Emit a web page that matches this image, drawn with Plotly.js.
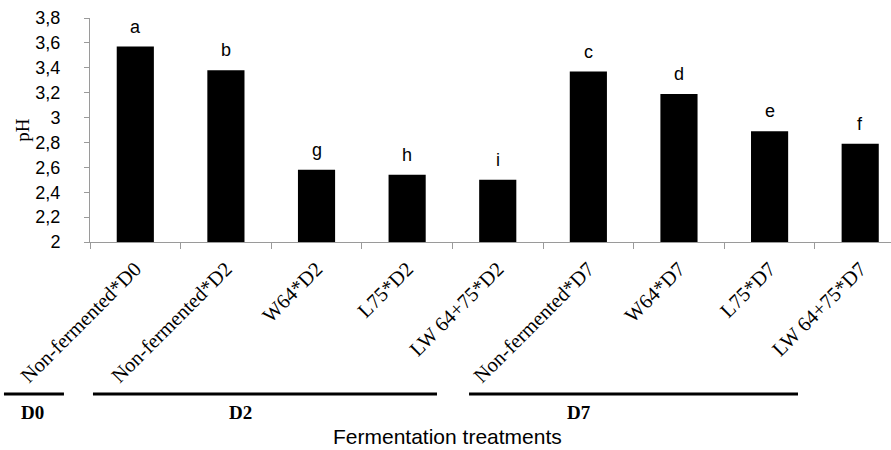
<!DOCTYPE html>
<html>
<head>
<meta charset="utf-8">
<script src="https://cdn.plot.ly/plotly-3.0.1.min.js"></script>
<style>html,body{margin:0;padding:0;background:#fff;}#chart{width:891px;height:450px;}</style>
</head>
<body>
<div id="chart"></div>
<script>
// Data
const categories = [
  "Non-fermented*D0",
  "Non-fermented*D2",
  "W64*D2",
  "L75*D2",
  "LW 64+75*D2",
  "Non-fermented*D7",
  "W64*D7",
  "L75*D7",
  "LW 64+75*D7"
];
const phValues = [3.57, 3.38, 2.58, 2.54, 2.50, 3.37, 3.19, 2.89, 2.79];
const letters = ["a", "b", "g", "h", "i", "c", "d", "e", "f"];
const yTickVals = [2, 2.2, 2.4, 2.6, 2.8, 3, 3.2, 3.4, 3.6, 3.8];
const groupNames = ["D0", "D2", "D7"];
// group bracket extents (paper coords) and label centers
const groupLineX0 = [-0.1074, 0.0037, 0.4732];
const groupLineX1 = [-0.0325, 0.4332, 0.8839];
const groupLabelX = [-0.0724, 0.1885, 0.6105];

const trace = {
  type: "bar",
  x: categories,
  y: phValues,
  width: 0.41,
  marker: {color: "#000000", line: {width: 0}},
  hoverinfo: "x+y"
};

const annotations = [];
categories.forEach((c, i) => {
  annotations.push({
    x: c, y: phValues[i], xref: "x", yref: "y",
    text: letters[i], showarrow: false,
    yanchor: "bottom", yshift: 8,
    font: {family: "Liberation Sans, Arial, sans-serif", size: 18, color: "#000"}
  });
});
groupNames.forEach((g, i) => {
  annotations.push({
    x: groupLabelX[i], y: -0.763, xref: "paper", yref: "paper",
    text: "<b>" + g + "</b>", showarrow: false,
    xanchor: "center", yanchor: "middle",
    font: {family: "Liberation Serif, Times New Roman, serif", size: 19, color: "#000"}
  });
});
annotations.push({
  x: 0.4463, y: -0.8705, xref: "paper", yref: "paper",
  text: "Fermentation treatments", showarrow: false,
  xanchor: "center", yanchor: "middle",
  font: {family: "Liberation Sans, Arial, sans-serif", size: 21, color: "#000"}
});

const shapes = groupNames.map((g, i) => ({
  type: "line", xref: "paper", yref: "paper",
  x0: groupLineX0[i], x1: groupLineX1[i], y0: -0.6786, y1: -0.6786,
  line: {color: "#000", width: 3}
}));

const layout = {
  width: 891, height: 450,
  margin: {l: 90, r: 0, t: 18, b: 208, pad: 0},
  paper_bgcolor: "#fff", plot_bgcolor: "#fff",
  separators: ", ",
  showlegend: false,
  xaxis: {
    type: "category",
    range: [-0.5, 8.34],
    showgrid: false, zeroline: false,
    showline: true, linecolor: "#9a9a9a", linewidth: 1,
    ticks: "outside", tickson: "boundaries", ticklen: 6, tickcolor: "#9a9a9a",
    tickangle: -45,
    automargin: false,
    ticklabelstandoff: 6,
    tickfont: {family: "Liberation Serif, Times New Roman, serif", size: 20.5, color: "#000"}
  },
  yaxis: {
    range: [2, 3.8],
    tickvals: yTickVals,
    tickformat: ".1~f",
    showgrid: false, zeroline: false,
    showline: true, linecolor: "#9a9a9a", linewidth: 1,
    ticks: "outside", ticklen: 5, tickcolor: "#9a9a9a",
    automargin: false,
    ticklabelstandoff: 20,
    tickfont: {family: "Liberation Sans, Arial, sans-serif", size: 18, color: "#000"},
    title: {text: "pH", standoff: 0, font: {family: "Liberation Serif, Times New Roman, serif", size: 19, color: "#000"}}
  },
  annotations: annotations,
  shapes: shapes
};

Plotly.newPlot("chart", [trace], layout, {displayModeBar: false, staticPlot: true});
</script>
</body>
</html>
